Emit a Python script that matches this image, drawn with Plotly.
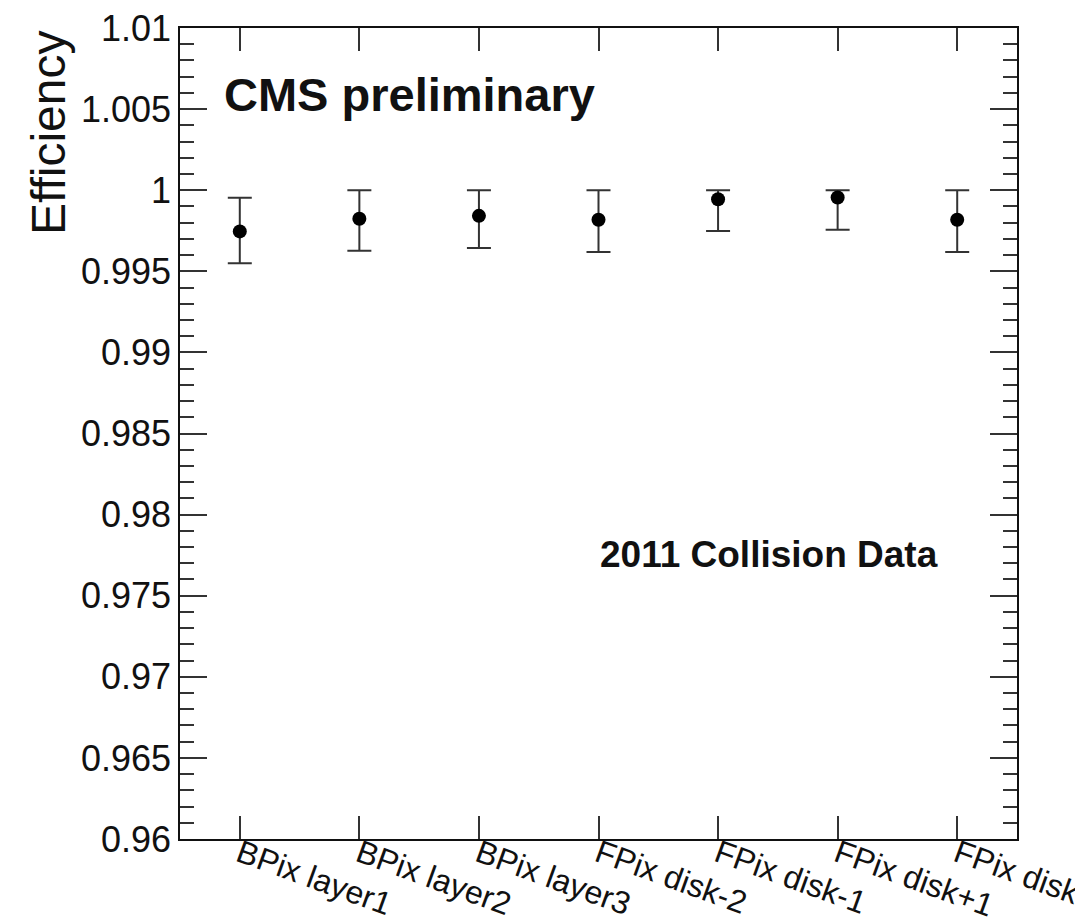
import plotly.graph_objects as go

# Hit efficiency per pixel detector layer / disk
layers = ["BPix layer1", "BPix layer2", "BPix layer3",
          "FPix disk-2", "FPix disk-1", "FPix disk+1", "FPix disk+2"]
efficiency = [0.99746, 0.99824, 0.99842, 0.99818, 0.99944, 0.99955, 0.99818]
err_up = [0.00207, 0.00176, 0.00158, 0.00182, 0.00056, 0.00045, 0.00182]
err_down = [0.00197, 0.00198, 0.00198, 0.00199, 0.00196, 0.00199, 0.00199]

FONT = "Liberation Sans, Arial, sans-serif"
INK = "#111111"

fig = go.Figure()
fig.add_trace(go.Scatter(
    x=layers,
    y=efficiency,
    mode="markers",
    marker=dict(symbol="circle", size=14, color="black"),
    error_y=dict(type="data", symmetric=False, array=err_up, arrayminus=err_down,
                 color="#333333", thickness=2, width=12),
    showlegend=False,
))

fig.update_layout(
    width=1075, height=919,
    margin=dict(l=180, r=58, t=28, b=80),
    paper_bgcolor="white", plot_bgcolor="white",
    font=dict(family=FONT, color=INK),
)

fig.update_xaxes(
    type="category",
    range=[-0.5, 6.5],
    automargin=False,
    showgrid=False, zeroline=False,
    showline=True, linecolor=INK, linewidth=1.5, mirror="allticks",
    ticks="inside", ticklen=23, tickwidth=1.5, tickcolor="#333333",
    tickangle=20, ticklabelstandoff=-18,
    tickfont=dict(family=FONT, size=32, color=INK),
)

fig.update_yaxes(
    range=[0.96, 1.01],
    tick0=0.96, dtick=0.005,
    automargin=False,
    showgrid=False, zeroline=False,
    showline=True, linecolor=INK, linewidth=1.5, mirror="allticks",
    ticks="inside", ticklen=27, tickwidth=1.5, tickcolor="#333333",
    tickfont=dict(family=FONT, size=36, color=INK),
    minor=dict(dtick=0.001, tick0=0.96, ticks="inside", ticklen=14,
               tickwidth=1.5, tickcolor="#333333", showgrid=False),
)

# Rotated axis title, right-aligned to the top of the frame
fig.add_annotation(
    text="Efficiency", textangle=-90,
    xref="paper", yref="paper", x=-0.123, y=1.0,
    xanchor="right", yanchor="top", showarrow=False,
    font=dict(family=FONT, size=48, color=INK),
)
fig.add_annotation(
    text="<b>CMS preliminary</b>",
    xref="paper", yref="paper", x=0.0502, y=0.9174,
    xanchor="left", yanchor="middle", showarrow=False,
    font=dict(family=FONT, size=47, color=INK),
)
fig.add_annotation(
    text="<b>2011 Collision Data</b>",
    xref="paper", yref="paper", x=0.4994, y=0.3502,
    xanchor="left", yanchor="middle", showarrow=False,
    font=dict(family=FONT, size=37, color=INK),
)

fig.write_html("out.html")
